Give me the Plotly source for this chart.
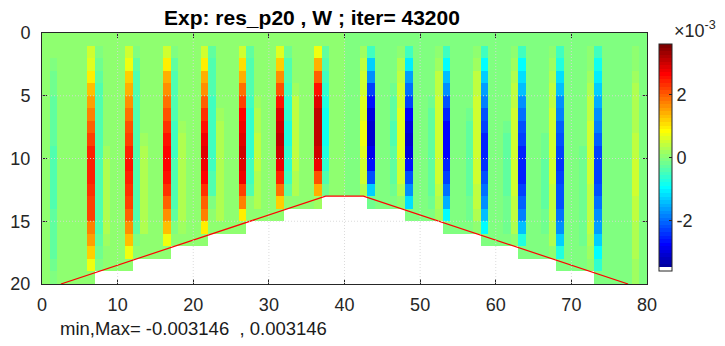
import math
import plotly.graph_objects as go

# ---------------- data (units of 1e-3) ----------------
n_cols = 80
n_rows = 20
x_ticks = [0, 10, 20, 30, 40, 50, 60, 70, 80]
y_ticks = [0, 5, 10, 15, 20]
cbar_ticks = [-2, 0, 2]
c_lim = 3.6

title_text = "Exp: res_p20 , W ; iter= 43200"
minmax_text = "min,Max= -0.003146  , 0.003146"

# number of wet cells in each column (bathymetry)
water_depth = [20, 20, 20, 20, 20, 20, 20,
               19, 19, 19, 19, 19,
               18, 18, 18, 18, 18,
               17, 17, 17, 17, 17,
               16, 16, 16, 16, 16,
               15, 15, 15, 15, 15,
               14, 14, 14, 14, 14,
               13, 13, 13, 13, 13, 13,
               14, 14, 14, 14, 14,
               15, 15, 15, 15, 15,
               16, 16, 16, 16, 16,
               17, 17, 17, 17, 17,
               18, 18, 18, 18, 18,
               19, 19, 19, 19, 19,
               20, 20, 20, 20, 20, 20, 20]

# red topography line
topo_x = [2.5, 37.5, 42.5, 77.5]
topo_y = [20, 13, 13, 20]

# background level of each column
bg_vals = [0.03, 0.08, 0.1, 0.1, 0.08, 0.06, 0.08, 0.08, 0.08, 0.06,
           0.05, 0.08, 0.08, 0.08, 0.06, 0.03, 0.08, 0.08, 0.08, 0.06,
           0.05, 0.08, 0.08, 0.08, 0.06, 0.05, 0.08, 0.08, 0.08, 0.06,
           0.05, 0.08, 0.08, 0.08, 0.03, 0.02, 0.08, 0.08, 0.05, 0.03,
           -0.03, -0.05, -0.08, -0.08, -0.03, -0.03, -0.08, -0.08, -0.08, -0.05,
           -0.06, -0.08, -0.08, -0.08, -0.05, -0.05, -0.08, -0.08, -0.08, -0.05,
           -0.06, -0.08, -0.08, -0.08, -0.05, -0.05, -0.08, -0.08, -0.08, -0.05,
           -0.06, -0.08, -0.08, -0.08, -0.05, -0.05, -0.08, -0.08, -0.08, -0.03]

red_cols = [6, 11, 16, 21, 26, 31, 36]
red_vals = [
    [0.05, 0.51, 0.65, 1.01, 1.25, 1.5, 1.71, 1.92, 2.18, 2.38, 2.42, 2.38, 2.31, 2.24, 2.14, 1.78, 1.53, 1.19, 0.72, 0.1],
    [0.05, 0.56, 0.77, 1.19, 1.35, 1.65, 1.85, 2.05, 2.25, 2.45, 2.5, 2.45, 2.31, 2.18, 2.0, 1.68, 1.28, 0.68, 0.1],
    [0.05, 0.51, 0.95, 1.35, 1.65, 1.82, 2.1, 2.35, 2.5, 2.6, 2.63, 2.53, 2.28, 2.0, 1.68, 1.28, 0.72, 0.1],
    [0.05, 0.56, 0.97, 1.35, 1.65, 2.0, 2.35, 2.55, 2.72, 2.82, 2.78, 2.65, 2.35, 2.0, 1.72, 1.0, 0.1],
    [0.05, 0.53, 1.05, 1.45, 1.9, 2.25, 2.65, 2.8, 2.92, 3.0, 2.9, 2.7, 2.25, 1.7, 1.0, 0.1],
    [0.05, 0.6, 1.15, 1.65, 2.05, 2.55, 2.85, 3.0, 3.1, 3.0, 2.8, 2.45, 1.9, 1.15, 0.1],
    [0.05, 0.72, 1.45, 1.92, 2.55, 2.85, 3.05, 3.146, 3.12, 2.95, 2.72, 2.05, 1.45, 0.15],
]

blue_cols = [43, 48, 53, 58, 63, 68, 73]
blue_vals = [
    [-0.05, -0.48, -1.3, -1.78, -2.35, -2.6, -2.95, -3.146, -3.1, -2.9, -2.7, -2.15, -1.35, -0.15],
    [-0.05, -0.48, -1.1, -1.6, -1.97, -2.35, -2.8, -3.0, -3.05, -2.95, -2.65, -2.25, -1.78, -1.2, -0.1],
    [-0.05, -0.5, -0.95, -1.4, -1.75, -2.2, -2.5, -2.72, -2.8, -2.72, -2.5, -2.3, -1.95, -1.5, -0.95, -0.1],
    [-0.05, -0.5, -0.95, -1.3, -1.6, -1.9, -2.15, -2.35, -2.5, -2.55, -2.45, -2.25, -2.0, -1.75, -1.4, -0.95, -0.1],
    [-0.05, -0.5, -0.9, -1.2, -1.45, -1.7, -1.95, -2.15, -2.35, -2.5, -2.55, -2.5, -2.3, -2.1, -1.85, -1.4, -0.7, -0.1],
    [-0.05, -0.5, -0.75, -1.2, -1.45, -1.7, -1.9, -2.1, -2.25, -2.35, -2.4, -2.35, -2.25, -2.15, -2.0, -1.75, -1.3, -0.7, -0.1],
    [-0.05, -0.5, -0.85, -1.1, -1.3, -1.5, -1.75, -1.9, -2.1, -2.3, -2.35, -2.3, -2.15, -2.0, -1.8, -1.65, -1.25, -0.95, -0.6, -0.1],
]

cyan_cols = [1, 7, 12, 17, 22, 27, 32, 37]
cyan_vals = [
    [0.05, 0.0, -0.05, -0.2, -0.22, -0.25, -0.3, -0.3, -0.32, -0.38, -0.4, -0.4, -0.38, -0.35, -0.3, -0.3, -0.28, -0.25, -0.2, -0.05],
    [0.05, -0.05, -0.15, -0.3, -0.35, -0.35, -0.38, -0.4, -0.45, -0.45, -0.45, -0.45, -0.45, -0.42, -0.4, -0.35, -0.3, -0.2, -0.05],
    [0.05, -0.05, -0.3, -0.35, -0.38, -0.4, -0.42, -0.45, -0.45, -0.45, -0.45, -0.45, -0.42, -0.4, -0.38, -0.3, -0.1, 0.05],
    [0.05, -0.1, -0.3, -0.38, -0.4, -0.42, -0.45, -0.48, -0.48, -0.48, -0.45, -0.45, -0.42, -0.4, -0.3, -0.1, 0.05],
    [0.05, -0.25, -0.35, -0.4, -0.45, -0.48, -0.5, -0.5, -0.5, -0.5, -0.48, -0.45, -0.4, -0.1, 0.0, 0.05],
    [0.05, -0.3, -0.35, -0.4, -0.45, -0.5, -0.6, -0.62, -0.62, -0.6, -0.55, -0.5, -0.4, 0.0, 0.05],
    [0.05, -0.2, -0.4, -0.45, -0.5, -0.6, -0.65, -0.7, -0.7, -0.65, -0.6, -0.5, -0.3, 0.05],
    [0.05, -0.3, -0.45, -0.55, -0.65, -0.75, -0.8, -0.85, -0.8, -0.75, -0.6, -0.4, -0.15],
]

yel_cols = [42, 47, 52, 57, 62, 67, 72, 78]
yel_vals = [
    [-0.05, 0.2, 0.35, 0.45, 0.5, 0.6, 0.65, 0.7, 0.68, 0.62, 0.55, 0.45, 0.25],
    [-0.05, 0.1, 0.3, 0.4, 0.45, 0.55, 0.6, 0.65, 0.65, 0.6, 0.55, 0.45, 0.3, 0.1],
    [-0.05, 0.05, 0.2, 0.35, 0.4, 0.45, 0.5, 0.55, 0.55, 0.55, 0.5, 0.45, 0.4, 0.3, 0.15],
    [-0.05, 0.05, 0.2, 0.35, 0.4, 0.45, 0.5, 0.5, 0.5, 0.5, 0.5, 0.45, 0.4, 0.35, 0.25, 0.05],
    [-0.05, 0.05, 0.15, 0.3, 0.35, 0.4, 0.45, 0.45, 0.5, 0.5, 0.5, 0.45, 0.45, 0.4, 0.35, 0.3, 0.1],
    [-0.05, 0.05, 0.15, 0.3, 0.35, 0.4, 0.45, 0.45, 0.45, 0.45, 0.45, 0.45, 0.4, 0.4, 0.35, 0.3, 0.25, 0.05],
    [-0.05, 0.0, 0.05, 0.15, 0.25, 0.35, 0.4, 0.45, 0.45, 0.45, 0.45, 0.45, 0.4, 0.4, 0.35, 0.35, 0.3, 0.2, 0.05],
    [-0.05, 0.0, 0.05, 0.2, 0.25, 0.25, 0.3, 0.3, 0.35, 0.4, 0.45, 0.45, 0.45, 0.4, 0.35, 0.3, 0.3, 0.25, 0.2, 0.15],
]

pos_cols = [8, 13, 18, 23, 28, 33]
pos_vals = [
    [0.05, 0.05, 0.05, 0.05, 0.05, 0.1, 0.1, 0.1, 0.1, 0.15, 0.25, 0.25, 0.25, 0.25, 0.25, 0.25, 0.2, 0.1, 0.05],
    [0.05, 0.05, 0.05, 0.05, 0.05, 0.1, 0.1, 0.1, 0.15, 0.25, 0.25, 0.28, 0.28, 0.28, 0.25, 0.25, 0.1, 0.05],
    [0.05, 0.05, 0.05, 0.05, 0.05, 0.1, 0.1, 0.2, 0.28, 0.3, 0.3, 0.3, 0.3, 0.28, 0.25, 0.2, 0.05],
    [0.05, 0.05, 0.05, 0.1, 0.1, 0.1, 0.15, 0.3, 0.32, 0.32, 0.32, 0.32, 0.3, 0.3, 0.25, 0.05],
    [0.05, 0.05, 0.1, 0.1, 0.1, 0.15, 0.3, 0.32, 0.35, 0.35, 0.35, 0.32, 0.3, 0.25, 0.05],
    [0.05, 0.05, 0.1, 0.1, 0.2, 0.35, 0.38, 0.4, 0.4, 0.38, 0.35, 0.3, 0.25, 0.05],
]

neg_cols = [71, 66, 61, 56, 51, 46]
neg_vals = [
    [-0.05, -0.05, -0.05, -0.05, -0.05, -0.1, -0.1, -0.1, -0.1, -0.15, -0.2, -0.2, -0.22, -0.22, -0.22, -0.2, -0.2, -0.1, -0.05],
    [-0.05, -0.05, -0.05, -0.05, -0.05, -0.1, -0.1, -0.1, -0.15, -0.22, -0.25, -0.25, -0.25, -0.25, -0.22, -0.2, -0.1, -0.05],
    [-0.05, -0.05, -0.05, -0.05, -0.1, -0.1, -0.1, -0.2, -0.25, -0.25, -0.25, -0.25, -0.25, -0.22, -0.2, -0.15, -0.05],
    [-0.05, -0.05, -0.05, -0.1, -0.1, -0.1, -0.15, -0.25, -0.28, -0.28, -0.28, -0.28, -0.25, -0.22, -0.15, -0.05],
    [-0.05, -0.05, -0.1, -0.1, -0.1, -0.2, -0.28, -0.3, -0.3, -0.3, -0.3, -0.28, -0.25, -0.15, -0.05],
    [-0.05, -0.05, -0.1, -0.1, -0.2, -0.3, -0.32, -0.35, -0.35, -0.32, -0.3, -0.25, -0.2, -0.05],
]

# ---------------- build grid ----------------
z = [[(bg_vals[c] if r < water_depth[c] else None) for c in range(n_cols)]
     for r in range(n_rows)]
for cols, vals in [(red_cols, red_vals), (blue_cols, blue_vals),
                   (cyan_cols, cyan_vals), (yel_cols, yel_vals),
                   (pos_cols, pos_vals), (neg_cols, neg_vals)]:
    for c, prof in zip(cols, vals):
        for r, v in enumerate(prof):
            if r < water_depth[c]:
                z[r][c] = v


# MATLAB-style jet(64) with first entry white
def matlab_jet(m):
    n = math.ceil(m / 4)
    u = [i / n for i in range(1, n + 1)] + [1.0] * (n - 1) + [i / n for i in range(n, 0, -1)]
    g0 = math.ceil(n / 2) - (1 if m % 4 == 1 else 0)
    g = [g0 + i for i in range(1, len(u) + 1)]
    r = [k + n for k in g]
    b = [k - n for k in g]
    J = [[0.0, 0.0, 0.0] for _ in range(m)]
    for idx, uu in zip(r, u):
        if 1 <= idx <= m:
            J[idx - 1][0] = uu
    for idx, uu in zip(g, u):
        if 1 <= idx <= m:
            J[idx - 1][1] = uu
    for idx, uu in zip(b, u):
        if 1 <= idx <= m:
            J[idx - 1][2] = uu
    return J


cmap = matlab_jet(64)
cmap[0] = [1.0, 1.0, 1.0]
colorscale = []
for k, (rr, gg, bb) in enumerate(cmap):
    col = "rgb(%d,%d,%d)" % (round(rr * 255), round(gg * 255), round(bb * 255))
    colorscale.append([k / 64, col])
    colorscale.append([(k + 1) / 64, col])

FONT = "Liberation Sans, Arial, Helvetica, sans-serif"
AX = "#262626"

fig = go.Figure()
fig.add_trace(go.Heatmap(
    z=z, x=list(range(n_cols + 1)), y=list(range(n_rows + 1)),
    zmin=-c_lim, zmax=c_lim, colorscale=colorscale, hoverinfo="skip",
    colorbar=dict(thickness=13, thicknessmode="pixels", len=0.903, lenmode="fraction",
                  x=1.0203, xanchor="left", y=0.5034, yanchor="middle",
                  xpad=0, ypad=0, outlinewidth=1, outlinecolor=AX,
                  tickvals=cbar_ticks, ticktext=[str(t) for t in cbar_ticks],
                  ticks="inside", ticklen=3, tickcolor=AX,
                  tickfont=dict(size=18, color=AX, family=FONT)),
))
fig.add_trace(go.Scatter(x=topo_x, y=topo_y, mode="lines",
                         line=dict(color="red", width=1.2),
                         hoverinfo="skip", showlegend=False))

shapes = []
for xv in x_ticks[1:-1]:
    shapes.append(dict(type="line", xref="x", yref="y", x0=xv, x1=xv, y0=0, y1=n_rows,
                       layer="above", line=dict(color="rgba(215,215,215,0.9)", width=1, dash="1px,2px")))
for yv in y_ticks[1:-1]:
    shapes.append(dict(type="line", xref="x", yref="y", x0=0, x1=n_cols, y0=yv, y1=yv,
                       layer="above", line=dict(color="rgba(215,215,215,0.9)", width=1, dash="1px,2px")))

axis_common = dict(ticks="inside", ticklen=5, tickcolor=AX, tickwidth=1,
                   showline=True, linecolor=AX, linewidth=1, mirror="ticks",
                   showgrid=False, zeroline=False, automargin=False,
                   tickfont=dict(size=18, color=AX, family=FONT))

fig.update_layout(
    width=725, height=346,
    margin=dict(l=42, r=78, t=33, b=62, autoexpand=False),
    paper_bgcolor="white", plot_bgcolor="white",
    showlegend=False,
    xaxis=dict(range=[0, n_cols], tickvals=x_ticks, ticklabelstandoff=4, **axis_common),
    yaxis=dict(range=[n_rows, 0], tickvals=y_ticks, ticklabelstandoff=7, **axis_common),
    shapes=shapes,
    annotations=[
        dict(text="<b>%s</b>" % title_text, xref="paper", yref="paper", x=0.446, y=1.062,
             xanchor="center", yanchor="middle", showarrow=False,
             font=dict(size=21, color="black", family=FONT)),
        dict(text=minmax_text, xref="paper", yref="paper", x=0.027, y=-0.177,
             xanchor="left", yanchor="middle", showarrow=False,
             font=dict(size=18.5, color="#1a1a1a", family=FONT)),
        dict(text="\u00d710<sup>-3</sup>", xref="paper", yref="paper", x=1.041, y=1.012,
             xanchor="left", yanchor="middle", showarrow=False,
             font=dict(size=18, color=AX, family=FONT)),
    ],
)

fig.write_html("out.html", config={"displayModeBar": False},
               post_script="document.body.style.margin='0px';")
